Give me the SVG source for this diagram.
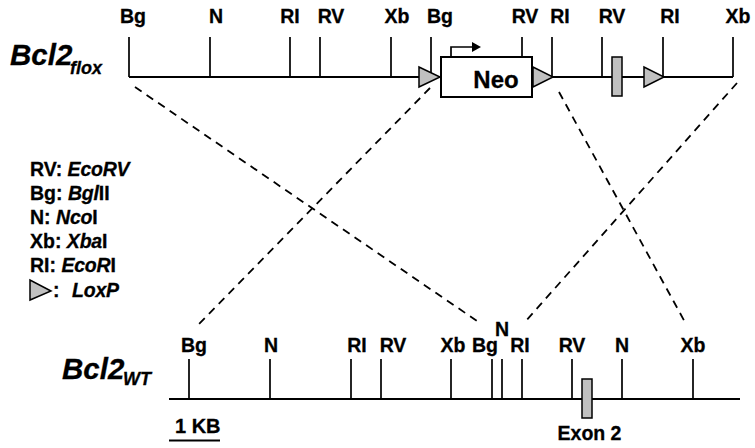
<svg xmlns="http://www.w3.org/2000/svg" width="755" height="448" viewBox="0 0 755 448">
<style>
text{font-family:"Liberation Sans",Arial,sans-serif;font-weight:bold;fill:#000;stroke:#000;stroke-width:0.3px}
.s{font-size:19.500px;text-anchor:middle}
.l{font-size:19.500px}
.i{font-style:italic;letter-spacing:-0.2px}
.t{font-size:29.500px;font-style:italic}
.sub{font-size:18px;font-style:italic}
.b{stroke:#000;stroke-width:2;fill:none}
.k{stroke:#000;stroke-width:1.7;fill:none}
.d{stroke:#000;stroke-width:1.8;fill:none;stroke-dasharray:8 6}
.g{fill:#c0c0c0;stroke:#000;stroke-width:1.5}
</style>
<rect width="755" height="448" fill="#fff"/>
<g id="connectors">
<path class="b" d="M129 77H733"/>
<path class="k" d="M129 37V77M210 37V77M290 37V77M320 37V77M391 37V77M431 37V77M522 37V57M552 37V77M602 37V77M663 37V77M733 37V77"/>
<path class="b" d="M169 399H740"/>
<path class="k" d="M189 359V399M270 359V399M351 359V399M381 359V399M451 359V399M492 359V399M502 359V399M522 359V399M572 359V399M622 359V399M693 359V399"/>
<path class="d" d="M135 87L477 321"/>
<path class="d" d="M430 88L197 326"/>
<path class="d" d="M559 92L686 324"/>
<path class="d" d="M737 83L525 322"/>
<path class="k" d="M451 57V47H472"/>
<path d="M472 42L481 47L472 52Z" fill="#000"/>
<path class="b" d="M169 440.500H220"/>
</g>
<g id="loxp1"><path class="g" d="M419 67V87L440 77Z"/></g>
<g id="neo"><rect x="441" y="57" width="91" height="40" fill="#fff" stroke="#000" stroke-width="2"/><text x="496" y="88" font-size="24" text-anchor="middle">Neo</text></g>
<g id="loxp2"><path class="g" d="M533 67V87L553 77Z"/></g>
<g id="exon-flox"><rect class="g" x="612" y="57" width="10" height="39"/></g>
<g id="loxp3"><path class="g" d="M644 67V87L664 77Z"/></g>
<g id="exon-wt"><rect class="g" x="582" y="379" width="10" height="39"/></g>
<g id="title-flox"><text class="t" x="10" y="65">Bcl2</text><text class="sub" x="70" y="74">flox</text></g>
<g id="title-wt"><text class="t" x="62" y="379">Bcl2</text><text class="sub" x="123" y="385">WT</text></g>
<g id="top-sites">
<text class="s" x="133" y="23">Bg</text><text class="s" x="216" y="23">N</text><text class="s" x="290" y="23">RI</text><text class="s" x="331" y="23">RV</text><text class="s" x="397" y="23">Xb</text><text class="s" x="440" y="23">Bg</text><text class="s" x="525" y="23">RV</text><text class="s" x="560" y="23">RI</text><text class="s" x="612" y="23">RV</text><text class="s" x="670" y="23">RI</text><text class="s" x="738" y="23">Xb</text>
</g>
<g id="bottom-sites">
<text class="s" x="194" y="352">Bg</text><text class="s" x="271" y="352">N</text><text class="s" x="357" y="352">RI</text><text class="s" x="393" y="352">RV</text><text class="s" x="453" y="352">Xb</text><text class="s" x="485" y="352">Bg</text><text class="s" x="520" y="352">RI</text><text class="s" x="572" y="352">RV</text><text class="s" x="622" y="352">N</text><text class="s" x="693" y="352">Xb</text><text class="s" x="502" y="336">N</text>
</g>
<g id="legend">
<text class="l" x="30" y="176">RV: <tspan class="i">EcoRV</tspan></text>
<text class="l" x="30" y="200">Bg: <tspan class="i">Bgl</tspan>II</text>
<text class="l" x="30" y="224">N: <tspan class="i">Nco</tspan>I</text>
<text class="l" x="30" y="248">Xb: <tspan class="i">Xba</tspan>I</text>
<text class="l" x="30" y="272">RI: <tspan class="i">EcoR</tspan>I</text>
<path class="g" d="M30 280V300L51 291Z"/>
<text class="l" x="53" y="297">:</text><text class="l i" x="72" y="297">LoxP</text>
</g>
<g id="scale"><text x="175" y="433" font-size="20">1 KB</text></g>
<g id="exon-label"><text x="589.500" y="440" font-size="19.500" text-anchor="middle">Exon 2</text></g>
</svg>
